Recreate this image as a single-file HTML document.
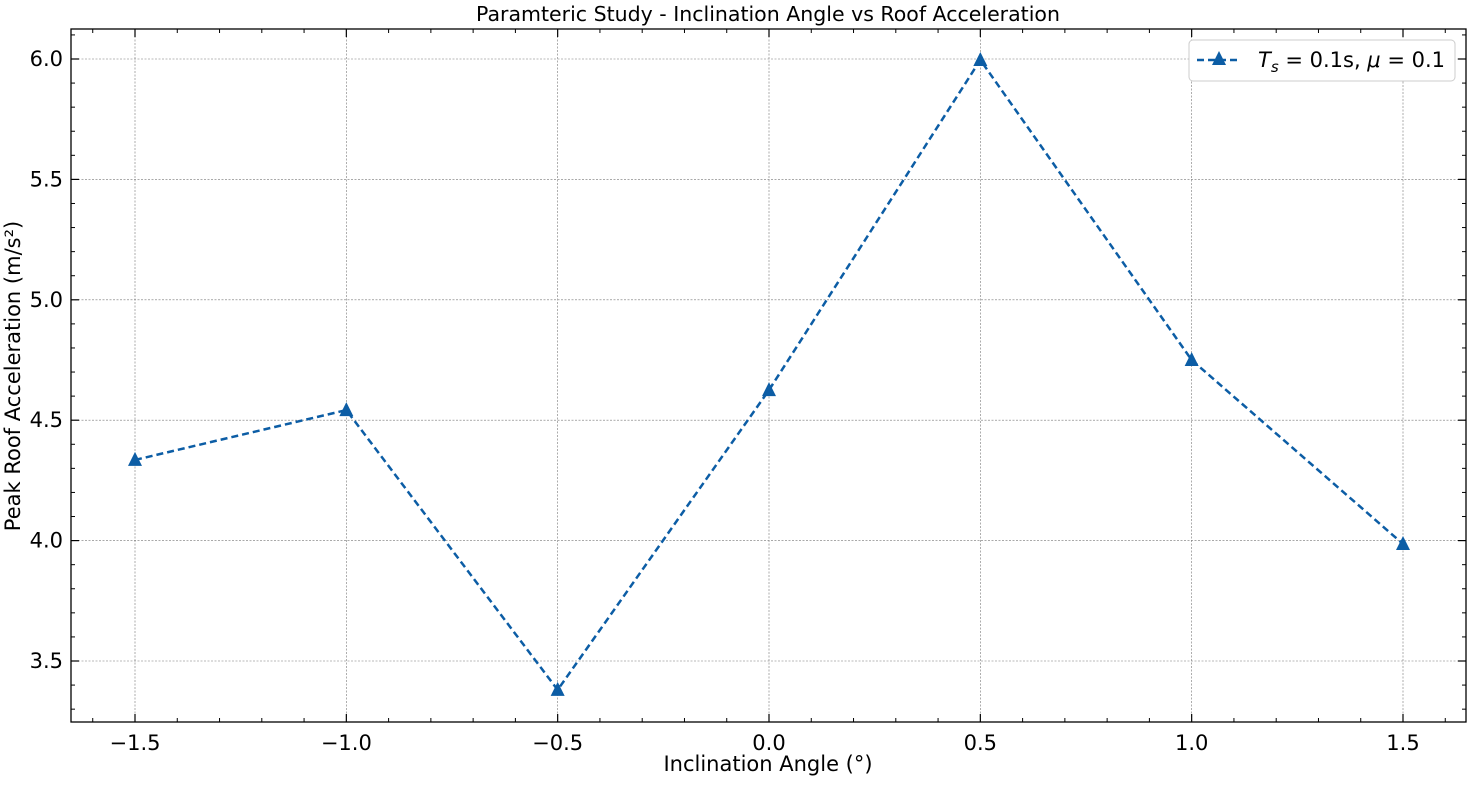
<!DOCTYPE html>
<html><head><meta charset="utf-8"><style>
body{margin:0;background:#fff;}
svg text{font-family:"DejaVu Sans","Liberation Sans",sans-serif;fill:#000;}
</style></head><body>
<svg id="chart" width="1471" height="781" xmlns="http://www.w3.org/2000/svg">
<text x="768" y="21" font-size="20.5" text-anchor="middle">Paramteric Study - Inclination Angle vs Roof Acceleration</text>
<g id="grid"></g>
<g id="ticks"></g>
<g id="series"></g>
<rect x="71" y="29" width="1395" height="693" fill="none" stroke="#000" stroke-width="1.3"/>
<text x="768" y="771" font-size="21" text-anchor="middle">Inclination Angle (°)</text>
<text transform="translate(20,376) rotate(-90)" font-size="21" text-anchor="middle">Peak Roof Acceleration (m/s²)</text>
<g>
<rect x="1189" y="40" width="266" height="41" rx="4" fill="#fff" stroke="#ccc"/>
<line x1="1197" y1="60" x2="1237" y2="60" stroke="#0c5da5" stroke-width="2.5" stroke-dasharray="7,4"/>
<polygon points="1219,51 1226,65 1212,65" fill="#0c5da5"/>
<text x="1258" y="67" font-size="21"><tspan font-style="italic">T</tspan><tspan font-style="italic" font-size="15" dy="5">s</tspan><tspan dy="-5"> = 0.1s, </tspan><tspan font-style="italic">μ</tspan><tspan> = 0.1</tspan></text>
</g>
</svg>
<script>
const xValues=[-1.5,-1.0,-0.5,0.0,0.5,1.0,1.5];
const yValues=[4.335,4.542,3.38,4.625,5.996,4.75,3.986];
const xTicks=[-1.5,-1.0,-0.5,0.0,0.5,1.0,1.5];
const xTickLabels=["−1.5","−1.0","−0.5","0.0","0.5","1.0","1.5"];
const yTicks=[3.5,4.0,4.5,5.0,5.5,6.0];
const yTickLabels=["3.5","4.0","4.5","5.0","5.5","6.0"];
const NS="http://www.w3.org/2000/svg";
const L=71,R=1466,T=29,B=722;
const sx=v=>135+(v+1.5)*(1403-135)/3;
const sy=v=>661-(v-3.5)*(661-59)/2.5;
function mk(tag,attrs,parent){const e=document.createElementNS(NS,tag);for(const k in attrs)e.setAttribute(k,attrs[k]);parent.appendChild(e);return e;}
const grid=document.getElementById('grid'),ticks=document.getElementById('ticks'),series=document.getElementById('series');
xTicks.forEach((v,i)=>{const x=sx(v);
 const g=mk('line',{x1:x,x2:x,y1:T,y2:B,stroke:'#777','stroke-width':0.6,'stroke-dasharray':'2,1.5'},grid);
 
 
 mk('line',{x1:x,x2:x,y1:B,y2:B-8,stroke:'#000','stroke-width':1.2},ticks);
 mk('line',{x1:x,x2:x,y1:T,y2:T+8,stroke:'#000','stroke-width':1.2},ticks);
 const t=mk('text',{x:x,y:B+28,'font-size':21,'text-anchor':'middle'},ticks);t.textContent=xTickLabels[i];
 
 
});
for(let k=-16;k<=16;k++){const x=sx(k/10);if(x<L||x>R||k%5===0)continue;
 mk('line',{x1:x,x2:x,y1:B,y2:B-4,stroke:'#000','stroke-width':1},ticks);
 mk('line',{x1:x,x2:x,y1:T,y2:T+4,stroke:'#000','stroke-width':1},ticks);}
yTicks.forEach((v,i)=>{const y=sy(v);
 const g=mk('line',{x1:L,x2:R,y1:y,y2:y,stroke:'#777','stroke-width':0.6,'stroke-dasharray':'2,1.5'},grid);
 
 
 mk('line',{x1:L,x2:L+8,y1:y,y2:y,stroke:'#000','stroke-width':1.2},ticks);
 mk('line',{x1:R,x2:R-8,y1:y,y2:y,stroke:'#000','stroke-width':1.2},ticks);
 const t=mk('text',{x:L-8,y:y+7,'font-size':21,'text-anchor':'end'},ticks);t.textContent=yTickLabels[i];
 
 
});
for(let k=32;k<=62;k++){const y=sy(k/10);if(y<T||y>B||k%5===0)continue;
 mk('line',{x1:L,x2:L+4,y1:y,y2:y,stroke:'#000','stroke-width':1},ticks);
 mk('line',{x1:R,x2:R-4,y1:y,y2:y,stroke:'#000','stroke-width':1},ticks);}
const pts=xValues.map((v,i)=>sx(v)+','+sy(yValues[i])).join(' ');
const line=mk('polyline',{points:pts,fill:'none',stroke:'#0c5da5','stroke-width':2.5,'stroke-dasharray':'7,4'},series);


xValues.forEach((v,i)=>{const x=sx(v),y=sy(yValues[i]);
 const p=mk('polygon',{points:`${x},${y-8} ${x+7},${y+6} ${x-7},${y+6}`,fill:'#0c5da5'},series);
 
 
});
</script>
</body></html>
